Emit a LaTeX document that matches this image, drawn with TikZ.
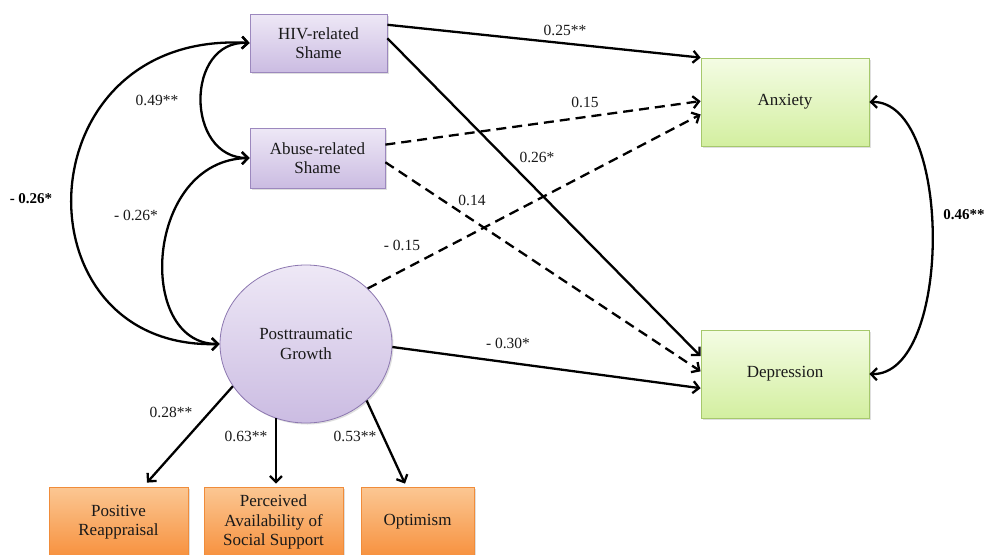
\documentclass[tikz,border=0pt]{standalone}
\usepackage{fontspec}
\setmainfont{Liberation Serif}
\usetikzlibrary{arrows.meta,calc,shadows,shapes.geometric}
\definecolor{pborder}{HTML}{9C88BE}
\definecolor{ptop}{HTML}{EEE8F6}
\definecolor{pbot}{HTML}{CBBCE2}
\definecolor{gborder}{HTML}{A6C86C}
\definecolor{gtop}{HTML}{F4FCE4}
\definecolor{gbot}{HTML}{D3EFA0}
\definecolor{oborder}{HTML}{F08C3A}
\definecolor{otop}{HTML}{FBC793}
\definecolor{obot}{HTML}{F7913E}
\definecolor{eborder}{HTML}{8C77B0}
\tikzset{
  txt/.style={font=\fontsize{17}{19.5}\selectfont, align=center, text=black!90},
  shad/.style={drop shadow={opacity=0.25, shadow xshift=1.5pt, shadow yshift=-1.5pt}},
  pbox/.style={txt, rectangle, draw=pborder, line width=0.8pt, top color=ptop, bottom color=pbot, shad, inner sep=0pt},
  gbox/.style={txt, rectangle, draw=gborder, line width=0.8pt, top color=gtop, bottom color=gbot, shad, inner sep=0pt},
  obox/.style={txt, rectangle, draw=oborder, line width=0.8pt, top color=otop, bottom color=obot, shad, inner sep=0pt},
  ebox/.style={txt, ellipse, draw=eborder, line width=0.8pt, top color=ptop, bottom color=pbot, shad, inner sep=0pt},
  arr/.style={line width=2.3pt, -{Straight Barb[length=6pt,width=12pt]}},
  arrr/.style={line width=2.3pt, {Straight Barb[length=6pt,width=12pt]}-{Straight Barb[length=6pt,width=12pt]}},
  dsh/.style={dash pattern=on 10pt off 6pt},
  lab/.style={font=\fontsize{15.5}{18}\selectfont, text=black!90},
  blab/.style={font=\bfseries\fontsize{15}{18}\selectfont, text=black},
}
\begin{document}
\begin{tikzpicture}[x=1pt,y=-1pt]
\useasboundingbox[fill=white] (0,0) rectangle (995,554);
% nodes
\node[pbox, minimum width=137pt, minimum height=58pt] (hiv) at (318.5,43) {HIV-related\\Shame};
\node[pbox, minimum width=135pt, minimum height=60pt] (abuse) at (317.5,158) {Abuse-related\\Shame};
\node[gbox, minimum width=168pt, minimum height=88pt] (anx) at (785,102) {Anxiety};
\node[gbox, minimum width=168pt, minimum height=88pt] (dep) at (785,374) {Depression};
\node[ebox, minimum width=172pt, minimum height=158pt] (ptg) at (306,344) {Posttraumatic\\Growth};
\node[obox, minimum width=139pt, minimum height=70pt] (pr) at (118.5,522) {Positive\\Reappraisal};
\node[obox, minimum width=139pt, minimum height=70pt] (pa) at (273.5,522) {Perceived\\Availability of\\Social Support};
\node[obox, minimum width=113pt, minimum height=70pt] (opt) at (417.5,522) {Optimism};
% paths to outcomes
\draw[arr] ($(hiv.north east)!0.19!(hiv.south east)$) -- (anx.north west);
\draw[arr] ($(hiv.north east)!0.42!(hiv.south east)$) -- ($(dep.north west)!0.3!(dep.south west)$);
\draw[arr,dsh] ($(abuse.north east)!0.28!(abuse.south east)$) -- ($(anx.north west)!0.49!(anx.south west)$);
\draw[arr,dsh] ($(abuse.north east)!0.57!(abuse.south east)$) -- ($(dep.north west)!0.47!(dep.south west)$);
\draw[arr,dsh] (ptg.42) -- ($(anx.north west)!0.64!(anx.south west)$);
\draw[arr] (ptg.-2) -- ($(dep.north west)!0.66!(dep.south west)$);
% indicators
\draw[arr] (ptg.210) -- ($(pr.north)+(28.5,-4)$);
\draw[arr] (ptg.-112) -- ($(ptg.-112 |- pa.north)+(0,-3)$);
\draw[arr] (ptg.-43) -- ($(opt.north)+(-12.5,-3)$);
% covariances
\draw[arrr] (hiv.west) .. controls (22,30) and (14,350) .. (ptg.west);
\draw[arrr] (hiv.west) .. controls (185,40) and (185,158) .. (abuse.west);
\draw[arrr] (abuse.west) .. controls (145,160) and (135,344) .. (ptg.west);
\draw[arrr] (anx.east) .. controls (953,100) and (953,376) .. (dep.east);
% labels
\node[lab] (l1) at (565,30) {0.25**};
\node[lab] (l2) at (585,102) {0.15};
\node[lab] (l3) at (537,157) {0.26*};
\node[lab] (l4) at (472,200) {0.14};
\node[lab] (l5) at (402,245) {- 0.15};
\node[lab] (l6) at (508,343) {- 0.30*};
\node[lab] (l7) at (157,100) {0.49**};
\node[lab] (l8) at (136,215) {- 0.26*};
\node[blab] (l9) at (31,199) {- 0.26*};
\node[blab] (l10) at (964,215) {0.46**};
\node[lab] (l11) at (171,412) {0.28**};
\node[lab] (l12) at (246,436) {0.63**};
\node[lab] (l13) at (355,436) {0.53**};
\end{tikzpicture}
\end{document}
